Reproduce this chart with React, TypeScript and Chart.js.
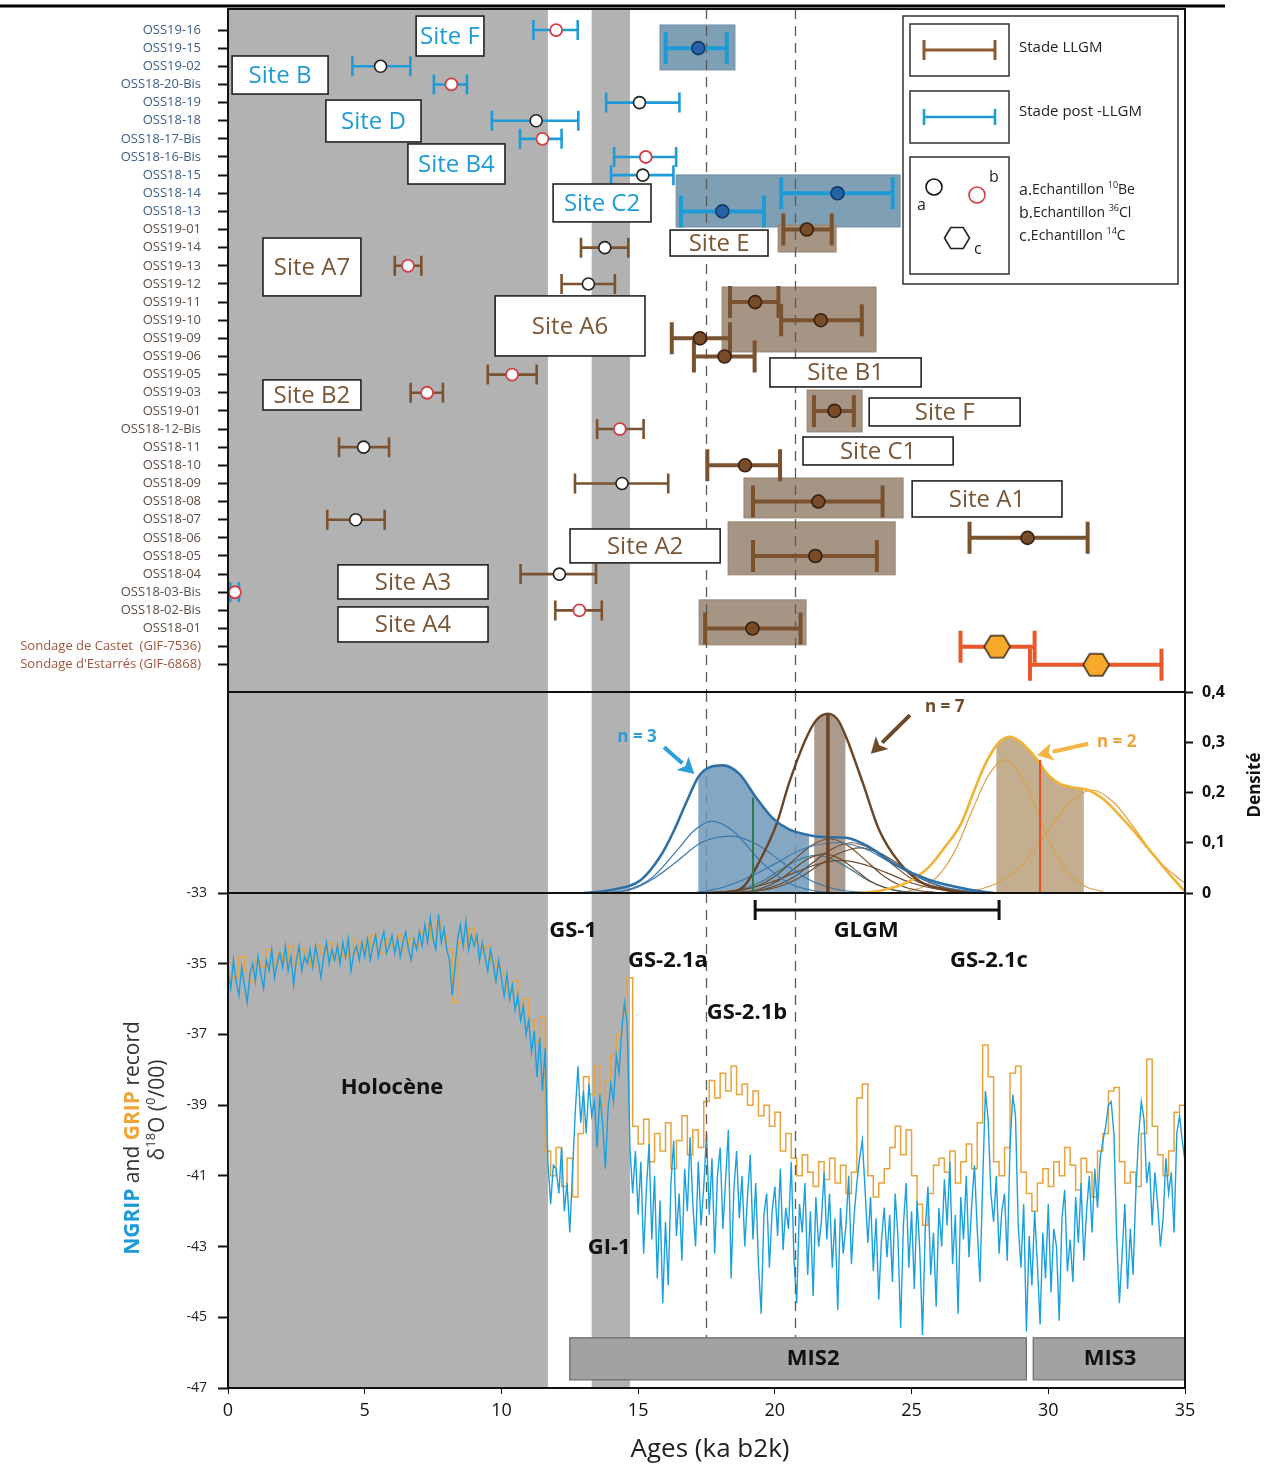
import React, { useEffect, useRef } from 'react';
import { Chart, registerables } from 'chart.js';
Chart.register(...registerables);

// ---------------- DATA ----------------
const SAMPLE_LABELS = ['OSS19-16', 'OSS19-15', 'OSS19-02', 'OSS18-20-Bis', 'OSS18-19', 'OSS18-18', 'OSS18-17-Bis', 'OSS18-16-Bis', 'OSS18-15', 'OSS18-14', 'OSS18-13', 'OSS19-01', 'OSS19-14', 'OSS19-13', 'OSS19-12', 'OSS19-11', 'OSS19-10', 'OSS19-09', 'OSS19-06', 'OSS19-05', 'OSS19-03', 'OSS19-01', 'OSS18-12-Bis', 'OSS18-11', 'OSS18-10', 'OSS18-09', 'OSS18-08', 'OSS18-07', 'OSS18-06', 'OSS18-05', 'OSS18-04', 'OSS18-03-Bis', 'OSS18-02-Bis', 'OSS18-01', 'Sondage de Castet  (GIF-7536)', "Sondage d'Estarrés (GIF-6868)"];
const SAMPLE_GROUP = ['post', 'post', 'post', 'post', 'post', 'post', 'post', 'post', 'post', 'post', 'post', 'llgm', 'llgm', 'llgm', 'llgm', 'llgm', 'llgm', 'llgm', 'llgm', 'llgm', 'llgm', 'llgm', 'llgm', 'llgm', 'llgm', 'llgm', 'llgm', 'llgm', 'llgm', 'llgm', 'llgm', 'llgm', 'llgm', 'llgm', 'c14', 'c14'];
const SAMPLE_STAGE = ['post', 'post', 'post', 'post', 'post', 'post', 'post', 'post', 'post', 'post', 'post', 'llgm', 'llgm', 'llgm', 'llgm', 'llgm', 'llgm', 'llgm', 'llgm', 'llgm', 'llgm', 'llgm', 'llgm', 'llgm', 'llgm', 'llgm', 'llgm', 'llgm', 'llgm', 'llgm', 'llgm', 'post', 'llgm', 'llgm', 'c14', 'c14'];
const SAMPLE_TYPE = ['Cl', 'sel', 'Be', 'Cl', 'Be', 'Be', 'Cl', 'Cl', 'Be', 'sel', 'sel', 'sel', 'Be', 'Cl', 'Be', 'sel', 'sel', 'sel', 'sel', 'Cl', 'Cl', 'sel', 'Cl', 'Be', 'sel', 'Be', 'sel', 'Be', 'sel', 'sel', 'Be', 'Cl', 'Cl', 'sel', 'C', 'C'];
const SAMPLE_AGE = [12.0, 17.2, 5.58, 8.17, 15.05, 11.27, 11.5, 15.28, 15.17, 22.29, 18.08, 21.17, 13.78, 6.58, 13.18, 19.28, 21.68, 17.26, 18.16, 10.39, 7.28, 22.18, 14.33, 4.96, 18.91, 14.41, 21.59, 4.67, 29.24, 21.48, 12.12, 0.25, 12.85, 19.18, 28.13, 31.75];
const SAMPLE_MIN = [11.17, 16.01, 4.55, 7.53, 13.83, 9.65, 10.68, 14.12, 14.01, 20.23, 16.57, 20.31, 12.91, 6.1, 12.2, 18.36, 20.23, 16.23, 17.04, 9.5, 6.68, 21.43, 13.5, 4.06, 17.53, 12.69, 19.2, 3.63, 27.12, 19.2, 10.7, 0.08, 11.97, 17.45, 26.79, 29.33];
const SAMPLE_MAX = [12.79, 18.24, 6.67, 8.74, 16.51, 12.81, 12.2, 16.39, 16.29, 24.31, 19.6, 22.08, 14.64, 7.07, 14.15, 20.13, 23.18, 18.36, 19.26, 11.29, 7.86, 22.89, 15.2, 5.89, 20.19, 16.1, 23.94, 5.73, 31.44, 23.73, 13.46, 0.4, 13.67, 20.94, 29.5, 34.14];

const BAND_START = [0, 13.3];
const BAND_END = [11.7, 14.7];
const DASHED_AGES = [17.48, 20.74];

// density panel (ka, density)
const DENS_POST_X = [13.0, 14.0, 15.1, 15.8, 16.3, 16.8, 17.2, 17.6, 18.1, 18.7, 19.3, 19.9, 20.5, 21.1, 21.6, 22.0, 22.6, 23.5, 24.4, 25.6, 27.1, 28.0];
const DENS_POST_Y = [0, 0.006, 0.026, 0.072, 0.123, 0.185, 0.231, 0.25, 0.254, 0.237, 0.191, 0.15, 0.127, 0.117, 0.112, 0.111, 0.11, 0.09, 0.057, 0.027, 0.007, 0];
const DENS_LLGM_X = [17.5, 18.4, 18.86, 19.31, 20.06, 20.51, 21.11, 21.5, 21.94, 22.3, 22.61, 23.21, 23.81, 24.56, 25.31, 26.36, 27.1];
const DENS_LLGM_Y = [0, 0.002, 0.013, 0.05, 0.137, 0.217, 0.304, 0.343, 0.357, 0.345, 0.31, 0.22, 0.126, 0.06, 0.023, 0.006, 0];
const DENS_C14_X = [23.0, 23.8, 24.8, 25.6, 26.2, 26.8, 27.3, 27.7, 28.2, 28.6, 29.0, 29.5, 30.0, 30.4, 30.9, 31.45, 32.05, 32.6, 33.1, 33.6, 34.0, 34.5, 35.0];
const DENS_C14_Y = [0, 0.004, 0.02, 0.05, 0.09, 0.137, 0.205, 0.257, 0.3, 0.311, 0.3, 0.272, 0.235, 0.218, 0.21, 0.205, 0.185, 0.155, 0.125, 0.092, 0.066, 0.033, 0.003];

const POST_A_X = [13.5, 14.5, 15.5, 16.5, 17.0, 17.7, 18.5, 19.5, 20.5, 21.5, 22.5];
const POST_A_Y = [0, 0.005, 0.03, 0.09, 0.122, 0.143, 0.122, 0.062, 0.02, 0.004, 0];
const POST_B_X = [13.8, 14.8, 15.6, 16.4, 17.3, 18.4, 19.4, 20.3, 21.2, 22.2, 23.4];
const POST_B_Y = [0, 0.008, 0.03, 0.062, 0.1, 0.113, 0.095, 0.06, 0.028, 0.008, 0];
const POST_C_X = [17.0, 18.0, 19.0, 20.0, 21.0, 22.2, 23.2, 24.2, 25.2, 26.2, 27.2, 28.0];
const POST_C_Y = [0, 0.01, 0.03, 0.058, 0.087, 0.1, 0.09, 0.062, 0.032, 0.012, 0.003, 0];

const LLGM_A_X = [18.1, 18.75, 19.4, 20.05, 20.7, 21.35, 22.0, 22.65, 23.3, 23.95, 24.6, 25.25, 25.9];
const LLGM_A_Y = [0.001, 0.005, 0.015, 0.035, 0.066, 0.095, 0.108, 0.095, 0.066, 0.035, 0.015, 0.005, 0.001];
const LLGM_B_X = [18.6, 19.3, 20.0, 20.7, 21.4, 22.1, 22.8, 23.5, 24.2, 24.9, 25.6, 26.3, 27.0];
const LLGM_B_Y = [0.001, 0.004, 0.014, 0.032, 0.061, 0.088, 0.1, 0.088, 0.061, 0.032, 0.014, 0.004, 0.001];
const LLGM_C_X = [18.6, 19.35, 20.1, 20.85, 21.6, 22.35, 23.1, 23.85, 24.6, 25.35, 26.1, 26.85, 27.6];
const LLGM_C_Y = [0.001, 0.004, 0.012, 0.029, 0.055, 0.079, 0.09, 0.079, 0.055, 0.029, 0.012, 0.004, 0.001];
const LLGM_D_X = [18.5, 19.05, 19.6, 20.15, 20.7, 21.25, 21.8, 22.35, 22.9, 23.45, 24.0, 24.55, 25.1];
const LLGM_D_Y = [0.001, 0.003, 0.011, 0.025, 0.048, 0.069, 0.078, 0.069, 0.048, 0.025, 0.011, 0.003, 0.001];
const LLGM_E_X = [17.3, 18.15, 19.0, 19.85, 20.7, 21.55, 22.4, 23.25, 24.1, 24.95, 25.8, 26.65, 27.5];
const LLGM_E_Y = [0.001, 0.003, 0.009, 0.021, 0.04, 0.057, 0.065, 0.057, 0.04, 0.021, 0.009, 0.003, 0.001];
const LLGM_F_X = [17.6, 18.25, 18.9, 19.55, 20.2, 20.85, 21.5, 22.15, 22.8, 23.45, 24.1, 24.75, 25.4];
const LLGM_F_Y = [0.001, 0.003, 0.01, 0.024, 0.046, 0.066, 0.075, 0.066, 0.046, 0.024, 0.01, 0.003, 0.001];

const C14_A_X = [24.8, 25.4, 26.0, 26.6, 27.2, 27.8, 28.4, 29.0, 29.6, 30.2, 30.8, 31.4, 32.0];
const C14_A_Y = [0.003, 0.012, 0.036, 0.085, 0.162, 0.233, 0.265, 0.233, 0.162, 0.085, 0.036, 0.012, 0.003];
const C14_B_X = [26.8, 27.6, 28.4, 29.2, 30.0, 30.8, 31.6, 32.4, 33.2, 34.0, 34.8, 35.0];
const C14_B_Y = [0.002, 0.009, 0.028, 0.066, 0.125, 0.18, 0.205, 0.18, 0.125, 0.066, 0.028, 0.02];

const MEAN_AGE = [19.2, 21.94, 29.7];
const MEAN_TOP = [0.19, 0.357, 0.265];
const SHADE_FROM = [17.2, 21.44, 28.1];
const SHADE_TO = [21.25, 22.58, 31.3];

const DENS_TICKS = [0, 0.1, 0.2, 0.3, 0.4];
const ISO_TICKS = [-47, -45, -43, -41, -39, -37, -35, -33];
const AGE_TICKS = [0, 5, 10, 15, 20, 25, 30, 35];

// ice-core δ18O records (regular sampling)
const NGRIP_START = 0;
const NGRIP_STEP = 0.1;
const NGRIP = [
  -35.2, -35.7, -34.9, -35.5, -35.9, -35.1, -35.6, -36.1, -35.3, -35.0,
  -35.5, -34.8, -35.3, -35.7, -34.9, -35.2, -34.6, -35.4, -35.0, -34.7,
  -35.1, -34.5, -35.2, -34.8, -35.6, -34.9, -34.5, -35.2, -34.8, -35.0,
  -34.6, -35.1, -34.5, -34.9, -35.4, -34.8, -34.4, -35.0, -34.6, -34.9,
  -34.5, -35.0, -34.4, -34.8, -34.3, -35.2, -34.7, -34.5, -34.9, -34.4,
  -34.8, -34.3, -34.9, -34.5, -34.2, -34.8, -34.4, -34.1, -34.7, -34.5,
  -34.2, -34.7, -34.3, -34.8, -34.4, -34.1, -34.6, -34.9, -34.3, -34.6,
  -34.1, -34.5, -33.9, -34.4, -33.7, -34.3, -34.6, -33.6, -34.4, -34.0,
  -34.6, -34.9, -35.9, -35.1, -34.3, -33.9, -34.5, -33.8, -34.6, -34.2,
  -34.5, -34.2, -34.9, -34.4, -34.8, -35.2, -34.6, -35.0, -35.5, -34.9,
  -35.4, -35.9, -35.3, -36.0, -35.6, -36.3, -35.9, -36.6, -36.2, -37.0,
  -36.6, -37.5, -36.9, -38.2, -37.1, -38.6, -37.4, -40.6, -41.8, -40.7,
  -40.8, -41.5, -40.2, -42.0, -41.2, -42.6, -40.9, -39.2, -37.9, -39.5,
  -38.6, -39.8, -38.4, -39.3, -38.9, -40.2, -38.7, -39.5, -40.8, -39.1,
  -38.4, -38.9, -37.6, -38.1, -36.9, -36.1, -36.7, -40.2, -41.5, -40.3,
  -42.1, -40.6, -43.2, -41.4, -40.1, -42.8, -41.0, -43.9, -41.7, -44.6,
  -42.3, -44.1, -41.2, -40.0, -42.7, -41.5, -43.4, -40.8, -42.0, -39.9,
  -41.8, -43.0, -40.6, -42.4, -41.3, -39.8, -42.1, -40.5, -43.2, -41.0,
  -40.2, -42.5, -41.1, -39.7, -43.9, -41.4, -40.3, -42.2, -41.0, -43.0,
  -41.6, -40.4, -42.8, -41.2, -43.5, -44.9, -42.1, -41.5, -43.6, -42.0,
  -41.3, -42.7, -40.8, -43.1, -41.9, -42.5, -40.6, -43.4, -44.6, -41.8,
  -42.6, -41.2, -43.8, -42.0, -44.4, -41.6, -43.0, -42.3, -40.9, -42.8,
  -41.5, -43.6, -42.2, -44.8, -41.9, -43.2, -42.4, -41.0, -43.5, -42.1,
  -41.2, -40.5, -40.0, -41.4, -42.9, -41.6, -43.7, -42.2, -44.5, -42.8,
  -41.9, -43.3, -42.1, -44.0, -41.5, -42.7, -45.3, -42.4, -41.2, -43.6,
  -42.0, -44.2, -41.7, -43.1, -45.5, -42.5, -41.3, -43.8, -42.6, -44.7,
  -41.9, -43.0, -41.1, -42.4, -40.6, -43.5, -42.1, -44.9, -41.6, -42.8,
  -41.0, -43.3, -41.8, -40.7, -42.5, -44.0, -41.2, -38.6, -39.4, -41.5,
  -42.3, -41.0, -43.2, -42.0, -41.5, -43.4, -40.2, -38.7, -39.3, -42.4,
  -43.6, -41.8, -45.4, -42.7, -44.1, -42.0, -43.5, -45.2, -42.6, -43.9,
  -41.8, -44.3, -42.5, -43.0, -45.1, -42.2, -41.4, -43.7, -42.8, -44.0,
  -41.6, -42.9, -41.2, -43.4, -42.0, -41.0, -42.6, -40.8, -41.9, -40.5,
  -40.0, -39.6, -39.0, -38.9, -39.8, -42.7, -44.6, -43.2, -41.8, -44.2,
  -42.5, -43.8, -41.5, -39.9, -38.9, -39.4, -41.2, -40.6, -42.4, -40.9,
  -41.8, -43.0, -42.2, -40.5, -41.5, -40.9, -42.6, -39.8, -39.3, -40.0,
  -40.6,
];
const GRIP_START = 0;
const GRIP_STEP = 0.2;
const GRIP = [
  -35.0, -35.4, -34.8, -35.2, -35.5, -34.9, -35.1, -34.6, -35.0, -34.7,
  -34.9, -34.5, -35.0, -34.6, -34.8, -35.1, -34.5, -34.7, -34.4, -34.9,
  -34.5, -34.8, -34.3, -34.7, -34.4, -34.6, -34.2, -34.5, -34.7, -34.3,
  -34.5, -34.2, -34.6, -34.3, -34.5, -34.1, -33.9, -34.3, -33.8, -34.2,
  -34.6, -36.1, -34.4, -34.5, -34.0, -34.4, -34.7, -34.5, -34.9, -35.1,
  -35.3, -35.8, -35.5, -36.2, -36.0, -36.6, -37.2, -36.5, -40.3, -41.0,
  -40.2, -41.3, -40.5, -41.6, -39.8, -38.2, -38.7, -37.9, -39.0, -38.3,
  -37.6, -37.0, -36.4, -35.4, -39.6, -40.1, -39.4, -40.6, -39.8, -40.3,
  -39.5, -40.8, -40.0, -39.3, -40.4, -39.7, -40.2, -38.9, -38.3, -38.8,
  -38.1, -38.6, -37.9, -38.7, -38.4, -39.0, -38.6, -39.3, -39.0, -39.6,
  -39.2, -40.3, -39.8, -40.5, -41.0, -40.4, -40.9, -41.3, -40.6, -41.1,
  -40.5, -41.2, -40.7, -41.5, -40.9, -38.8, -38.4, -41.0, -41.6, -41.2,
  -40.8, -40.2, -39.6, -40.4, -39.7, -41.0, -41.8, -42.4, -41.5, -40.7,
  -40.5, -40.9, -40.3, -41.2, -40.6, -40.1, -40.8, -39.5, -37.3, -38.2,
  -40.6, -41.0, -40.2, -38.1, -37.9, -40.9, -41.5, -42.0, -41.2, -40.8,
  -41.3, -40.6, -41.0, -40.2, -40.7, -41.4, -40.5, -40.9, -41.6, -40.3,
  -39.8, -38.6, -38.5, -40.6, -41.2, -40.9, -41.3, -39.8, -37.7, -39.6,
  -40.4, -41.0, -40.3, -39.2, -39.0, -39.6,
];

// ---------------- LAYOUT / STYLE ----------------
const W = 1275;
const H = 1468;
const PLOT_LEFT = 228;
const PLOT_RIGHT = 1185;
const TOP_Y0 = 9;
const TOP_Y1 = 692;
const MID_Y1 = 893;
const BOT_Y1 = 1388;
const FONT = '"Open Sans", "Noto Sans", "DejaVu Sans", sans-serif';
const GRAY = '#b2b2b2';
const BLUE = '#1e9bd7';
const BROWN = '#7b5230';
const ORANGE_BAR = '#e9582b';
const LABEL_COLORS: Record<string, string> = { post: '#3d5d85', llgm: '#5a4d44', c14: '#a0543d' };
const SITE_COLORS: Record<string, string> = { post: '#1e9bd7', llgm: '#7a5535' };

const SITE_BOXES = [
  { t: 'Site F', g: 'post', x0: 6.88, x1: 9.36, y0: -0.77, y1: 1.43 },
  { t: 'Site B', g: 'post', x0: 0.15, x1: 3.66, y0: 1.43, y1: 3.53 },
  { t: 'Site D', g: 'post', x0: 3.58, x1: 7.06, y0: 3.86, y1: 6.17 },
  { t: 'Site B4', g: 'post', x0: 6.58, x1: 10.13, y0: 6.28, y1: 8.49 },
  { t: 'Site C2', g: 'post', x0: 11.89, x1: 15.47, y0: 8.49, y1: 10.58 },
  { t: 'Site E', g: 'llgm', x0: 16.17, x1: 19.75, y0: 11.03, y1: 12.46 },
  { t: 'Site A7', g: 'llgm', x0: 1.28, x1: 4.86, y0: 11.47, y1: 14.66 },
  { t: 'Site A6', g: 'llgm', x0: 9.77, x1: 15.25, y0: 14.66, y1: 17.97 },
  { t: 'Site B1', g: 'llgm', x0: 19.82, x1: 25.35, y0: 18.08, y1: 19.68 },
  { t: 'Site B2', g: 'llgm', x0: 1.28, x1: 4.86, y0: 19.29, y1: 20.95 },
  { t: 'Site F', g: 'llgm', x0: 23.45, x1: 28.97, y0: 20.29, y1: 21.83 },
  { t: 'Site C1', g: 'llgm', x0: 21.03, x1: 26.52, y0: 22.44, y1: 23.98 },
  { t: 'Site A1', g: 'llgm', x0: 25.02, x1: 30.5, y0: 24.86, y1: 26.85 },
  { t: 'Site A2', g: 'llgm', x0: 12.51, x1: 18.0, y0: 27.51, y1: 29.38 },
  { t: 'Site A3', g: 'llgm', x0: 4.02, x1: 9.51, y0: 29.49, y1: 31.37 },
  { t: 'Site A4', g: 'llgm', x0: 4.02, x1: 9.51, y0: 31.81, y1: 33.74 },
];
const HILITE_BOXES = [
  { g: 'post', x0: 15.8, x1: 18.54, y0: -0.28, y1: 2.2 },
  { g: 'post', x0: 16.39, x1: 24.58, y0: 7.99, y1: 10.86 },
  { g: 'llgm', x0: 20.12, x1: 22.24, y0: 10.75, y1: 12.24 },
  { g: 'llgm', x0: 18.07, x1: 23.7, y0: 14.17, y1: 17.75 },
  { g: 'llgm', x0: 21.18, x1: 23.19, y0: 19.85, y1: 22.16 },
  { g: 'llgm', x0: 18.87, x1: 24.69, y0: 24.7, y1: 26.9 },
  { g: 'llgm', x0: 18.29, x1: 24.4, y0: 27.12, y1: 30.04 },
  { g: 'llgm', x0: 17.23, x1: 21.14, y0: 31.42, y1: 33.9 },
];
const HILITE_COLORS: Record<string, string> = { post: '#7f9fb5', llgm: '#a69485' };

Chart.defaults.font.family = FONT;

// ---------------- HELPERS ----------------
function hexPath(g: CanvasRenderingContext2D, cx: number, cy: number, w: number, h: number) {
  g.beginPath();
  g.moveTo(cx - w / 2, cy);
  g.lineTo(cx - w / 4, cy - h / 2);
  g.lineTo(cx + w / 4, cy - h / 2);
  g.lineTo(cx + w / 2, cy);
  g.lineTo(cx + w / 4, cy + h / 2);
  g.lineTo(cx - w / 4, cy + h / 2);
  g.closePath();
}
function hexCanvas(w: number, h: number, fill: string, stroke: string) {
  const c = document.createElement('canvas');
  c.width = w + 4;
  c.height = h + 4;
  const g = c.getContext('2d')!;
  hexPath(g, c.width / 2, c.height / 2, w, h);
  g.fillStyle = fill;
  g.fill();
  g.lineWidth = 1.5;
  g.strokeStyle = stroke;
  g.stroke();
  return c;
}
function drawBands(chart: any) {
  const { ctx, chartArea: a, scales } = chart;
  const x = scales.x;
  ctx.save();
  ctx.fillStyle = GRAY;
  BAND_START.forEach((s, k) => {
    const x0 = x.getPixelForValue(s), x1 = x.getPixelForValue(BAND_END[k]);
    ctx.fillRect(x0, a.top, x1 - x0, a.bottom - a.top);
  });
  ctx.restore();
}
function drawDashed(chart: any, yTop?: number, yBot?: number) {
  const { ctx, chartArea: a, scales } = chart;
  ctx.save();
  ctx.strokeStyle = '#5a5a5a';
  ctx.lineWidth = 1.3;
  ctx.setLineDash([10, 7]);
  DASHED_AGES.forEach((v) => {
    const px = Math.round(scales.x.getPixelForValue(v)) + 0.5;
    ctx.beginPath();
    ctx.moveTo(px, yTop ?? a.top);
    ctx.lineTo(px, yBot ?? a.bottom);
    ctx.stroke();
  });
  ctx.restore();
}
function drawFrame(chart: any) {
  const { ctx, chartArea: a } = chart;
  ctx.save();
  ctx.strokeStyle = '#111';
  ctx.lineWidth = 2;
  ctx.strokeRect(a.left, a.top, a.right - a.left, a.bottom - a.top);
  ctx.restore();
}
function errBar(ctx: CanvasRenderingContext2D, x0: number, x1: number, y: number, color: string, lw: number, cap: number) {
  ctx.strokeStyle = color;
  ctx.lineWidth = lw;
  ctx.beginPath();
  ctx.moveTo(x0, y);
  ctx.lineTo(x1, y);
  ctx.moveTo(x0, y - cap);
  ctx.lineTo(x0, y + cap);
  ctx.moveTo(x1, y - cap);
  ctx.lineTo(x1, y + cap);
  ctx.stroke();
}
function arrow(ctx: CanvasRenderingContext2D, x0: number, y0: number, x1: number, y1: number, color: string) {
  const ang = Math.atan2(y1 - y0, x1 - x0);
  const hl = 16, hw = 9;
  const bx = x1 - hl * Math.cos(ang), by = y1 - hl * Math.sin(ang);
  ctx.strokeStyle = color;
  ctx.fillStyle = color;
  ctx.lineWidth = 4;
  ctx.beginPath();
  ctx.moveTo(x0, y0);
  ctx.lineTo(bx, by);
  ctx.stroke();
  ctx.beginPath();
  ctx.moveTo(x1, y1);
  ctx.lineTo(bx + hw * Math.sin(ang), by - hw * Math.cos(ang));
  ctx.lineTo(bx + 4 * Math.cos(ang), by + 4 * Math.sin(ang));
  ctx.lineTo(bx - hw * Math.sin(ang), by + hw * Math.cos(ang));
  ctx.closePath();
  ctx.fill();
}
const pairs = (xs: number[], ys: number[]) => xs.map((x, i) => ({ x, y: ys[i] }));
const series = (start: number, step: number, vals: number[]) => vals.map((v, i) => ({ x: +(start + i * step).toFixed(3), y: v }));
const fitY = (width: number) => (s: any) => { s.width = width; s.paddingTop = 0; s.paddingBottom = 0; };

// ---------------- TOP PANEL ----------------
function makeTop(canvas: HTMLCanvasElement) {
  const ids = (pred: (i: number) => boolean) => SAMPLE_AGE.map((_, i) => i).filter(pred);
  const pts = (list: number[]) => list.map((i) => ({ x: SAMPLE_AGE[i], y: i }));
  const plugin = {
    id: 'topDeco',
    beforeDatasetsDraw(chart: any) {
      const { ctx, scales } = chart;
      const x = scales.x, y = scales.y;
      drawBands(chart);
      ctx.save();
      HILITE_BOXES.forEach((b) => {
        const x0 = x.getPixelForValue(b.x0), x1 = x.getPixelForValue(b.x1);
        const y0 = y.getPixelForValue(b.y0), y1 = y.getPixelForValue(b.y1);
        ctx.fillStyle = HILITE_COLORS[b.g];
        ctx.fillRect(x0, y0, x1 - x0, y1 - y0);
        ctx.strokeStyle = b.g === 'post' ? '#6f8fa6' : '#958373';
        ctx.lineWidth = 1;
        ctx.strokeRect(x0, y0, x1 - x0, y1 - y0);
      });
      ctx.restore();
      drawDashed(chart);
      ctx.save();
      SAMPLE_AGE.forEach((_, i) => {
        const st = SAMPLE_STAGE[i];
        const col = st === 'post' ? BLUE : st === 'c14' ? ORANGE_BAR : BROWN;
        const strong = SAMPLE_TYPE[i] === 'sel' || SAMPLE_TYPE[i] === 'C';
        errBar(ctx, x.getPixelForValue(SAMPLE_MIN[i]), x.getPixelForValue(SAMPLE_MAX[i]), y.getPixelForValue(i), col, strong ? 4 : 2.6, strong ? 16 : 10);
      });
      ctx.restore();
    },
    afterDatasetsDraw(chart: any) {
      const { ctx, scales } = chart;
      const x = scales.x, y = scales.y;
      ctx.save();
      SITE_BOXES.forEach((b) => {
        const x0 = x.getPixelForValue(b.x0), x1 = x.getPixelForValue(b.x1);
        const y0 = y.getPixelForValue(b.y0), y1 = y.getPixelForValue(b.y1);
        ctx.fillStyle = '#fff';
        ctx.fillRect(x0, y0, x1 - x0, y1 - y0);
        ctx.strokeStyle = '#222';
        ctx.lineWidth = 1.6;
        ctx.strokeRect(x0, y0, x1 - x0, y1 - y0);
        ctx.fillStyle = SITE_COLORS[b.g];
        ctx.font = `24px ${FONT}`;
        ctx.textAlign = 'center';
        ctx.textBaseline = 'middle';
        ctx.fillText(b.t, (x0 + x1) / 2, (y0 + y1) / 2 + 1);
      });
      // legend
      ctx.fillStyle = '#fff';
      ctx.fillRect(903, 16, 275, 268);
      ctx.strokeStyle = '#333';
      ctx.lineWidth = 1.5;
      ctx.strokeRect(903, 16, 275, 268);
      ctx.strokeRect(910, 24, 99, 52);
      ctx.strokeRect(910, 91, 99, 52);
      ctx.strokeRect(910, 157, 99, 117);
      errBar(ctx, 924, 995, 50, '#8b5a33', 3, 10);
      errBar(ctx, 924, 995, 117, BLUE, 2.6, 8);
      ctx.fillStyle = '#222';
      ctx.font = `15px ${FONT}`;
      ctx.textAlign = 'left';
      ctx.textBaseline = 'middle';
      ctx.fillText('Stade LLGM', 1019, 48);
      ctx.fillText('Stade post -LLGM', 1019, 112);
      ctx.lineWidth = 1.6;
      ctx.strokeStyle = '#111';
      ctx.beginPath();
      ctx.arc(934, 187, 8, 0, Math.PI * 2);
      ctx.stroke();
      ctx.strokeStyle = '#d23e48';
      ctx.beginPath();
      ctx.arc(977, 195, 8, 0, Math.PI * 2);
      ctx.stroke();
      ctx.strokeStyle = '#222';
      hexPath(ctx, 957, 238, 25, 21);
      ctx.stroke();
      ctx.fillStyle = '#222';
      ctx.font = `16px ${FONT}`;
      ctx.fillText('a', 917, 205);
      ctx.fillText('b', 989, 177);
      ctx.fillText('c', 974, 249);
      const lines: [string, string, string][] = [['a.', '10', 'Be'], ['b.', '36', 'Cl'], ['c.', '14', 'C']];
      lines.forEach((l, k) => {
        const yy = 190 + k * 23;
        let xx = 1019;
        ctx.font = `16px ${FONT}`;
        ctx.fillText(l[0], xx, yy);
        xx += ctx.measureText(l[0]).width;
        ctx.font = `14px ${FONT}`;
        ctx.fillText('Echantillon ', xx, yy);
        xx += ctx.measureText('Echantillon ').width;
        ctx.font = `9px ${FONT}`;
        ctx.fillText(l[1], xx, yy - 5);
        xx += ctx.measureText(l[1]).width;
        ctx.font = `14px ${FONT}`;
        ctx.fillText(l[2], xx, yy);
      });
      ctx.restore();
    },
    afterDraw(chart: any) {
      drawFrame(chart);
      const ctx = chart.ctx;
      ctx.save();
      ctx.strokeStyle = '#000';
      ctx.lineWidth = 3;
      ctx.beginPath();
      ctx.moveTo(0, 6);
      ctx.lineTo(1225, 6);
      ctx.stroke();
      ctx.restore();
    },
  };
  return new Chart(canvas, {
    type: 'scatter',
    data: {
      datasets: [
        { label: '10Be', data: pts(ids((i) => SAMPLE_TYPE[i] === 'Be')), pointRadius: 6, pointBackgroundColor: '#fff', pointBorderColor: '#222', pointBorderWidth: 1.6 },
        { label: '36Cl', data: pts(ids((i) => SAMPLE_TYPE[i] === 'Cl')), pointRadius: 6, pointBackgroundColor: '#fff', pointBorderColor: '#d23e48', pointBorderWidth: 1.8 },
        { label: 'post', data: pts(ids((i) => SAMPLE_TYPE[i] === 'sel' && SAMPLE_STAGE[i] === 'post')), pointRadius: 6.5, pointBackgroundColor: '#2463a8', pointBorderColor: '#15375e', pointBorderWidth: 1.6 },
        { label: 'llgm', data: pts(ids((i) => SAMPLE_TYPE[i] === 'sel' && SAMPLE_STAGE[i] === 'llgm')), pointRadius: 6.5, pointBackgroundColor: '#7a4b27', pointBorderColor: '#3a2010', pointBorderWidth: 1.6 },
        { label: '14C', data: pts(ids((i) => SAMPLE_TYPE[i] === 'C')), pointRadius: 1, pointBorderWidth: 0, pointStyle: hexCanvas(26, 22, '#f7a92b', '#3a2a1a') },
      ],
    } as any,
    options: {
      responsive: false,
      animation: false,
      devicePixelRatio: 1,
      events: [],
      layout: { padding: { left: 0, right: W - PLOT_RIGHT, top: TOP_Y0, bottom: H - TOP_Y1 } },
      plugins: { legend: { display: false }, tooltip: { enabled: false } },
      scales: {
        x: { type: 'linear', min: 0, max: 35, display: false },
        y: {
          type: 'linear',
          reverse: true,
          min: -1.16,
          max: 36.5,
          afterFit: fitY(PLOT_LEFT),
          afterBuildTicks: (s: any) => { s.ticks = SAMPLE_LABELS.map((_, i) => ({ value: i })); },
          ticks: {
            autoSkip: false,
            padding: 17,
            font: { size: 13 },
            color: (c: any) => LABEL_COLORS[SAMPLE_GROUP[c.tick?.value] || 'llgm'],
            callback: (v: any) => SAMPLE_LABELS[v] ?? '',
          },
          grid: { drawOnChartArea: false, tickLength: 10, tickColor: '#111', tickWidth: 2 },
          border: { display: false },
        },
      },
    } as any,
    plugins: [plugin],
  });
}

// ---------------- MIDDLE (DENSITY) PANEL ----------------
function makeMid(canvas: HTMLCanvasElement) {
  const curve = (xs: number[], ys: number[], color: string, width: number, order: number) => ({
    data: pairs(xs, ys), borderColor: color, borderWidth: width, pointRadius: 0, fill: false, cubicInterpolationMode: 'monotone', order,
  });
  const datasets = [
    curve(DENS_POST_X, DENS_POST_Y, '#2f71a6', 2.6, 1),
    curve(DENS_LLGM_X, DENS_LLGM_Y, '#6b4425', 2.4, 1),
    curve(DENS_C14_X, DENS_C14_Y, '#f2b233', 2.6, 1),
    curve(POST_A_X, POST_A_Y, '#3a78ad', 1.2, 3),
    curve(POST_B_X, POST_B_Y, '#3a78ad', 1.2, 3),
    curve(POST_C_X, POST_C_Y, '#3a78ad', 1.2, 3),
    curve(LLGM_A_X, LLGM_A_Y, '#6e4b2f', 1.2, 3),
    curve(LLGM_B_X, LLGM_B_Y, '#6e4b2f', 1.2, 3),
    curve(LLGM_C_X, LLGM_C_Y, '#6e4b2f', 1.2, 3),
    curve(LLGM_D_X, LLGM_D_Y, '#6e4b2f', 1.2, 3),
    curve(LLGM_E_X, LLGM_E_Y, '#6e4b2f', 1.2, 3),
    curve(LLGM_F_X, LLGM_F_Y, '#3e7f94', 1.2, 3),
    curve(C14_A_X, C14_A_Y, '#d9a04a', 1.2, 3),
    curve(C14_B_X, C14_B_Y, '#d9a04a', 1.2, 3),
  ];
  const SHADE_COLORS = ['rgba(110,152,184,0.85)', 'rgba(150,130,115,0.8)', 'rgba(180,155,115,0.8)'];
  const plugin = {
    id: 'midDeco',
    beforeDatasetsDraw(chart: any) {
      const { ctx, chartArea: a, scales } = chart;
      drawBands(chart);
      drawDashed(chart);
      const y0 = scales.y.getPixelForValue(0);
      [0, 1, 2].forEach((k) => {
        const meta = chart.getDatasetMeta(k);
        const line = meta.dataset;
        if (!line) return;
        line.updateControlPoints(a, 'x');
        const xa = scales.x.getPixelForValue(SHADE_FROM[k]), xb = scales.x.getPixelForValue(SHADE_TO[k]);
        ctx.save();
        ctx.beginPath();
        ctx.rect(xa, a.top, xb - xa, a.bottom - a.top);
        ctx.clip();
        ctx.beginPath();
        line.path(ctx);
        const pts = meta.data;
        ctx.lineTo(pts[pts.length - 1].x, y0);
        ctx.lineTo(pts[0].x, y0);
        ctx.closePath();
        ctx.fillStyle = SHADE_COLORS[k];
        ctx.fill();
        ctx.restore();
      });
    },
    afterDatasetsDraw(chart: any) {
      const { ctx, scales } = chart;
      const x = scales.x, y = scales.y;
      ctx.save();
      const mc = ['#2c7a4e', '#6b4425', '#e8502c'];
      const mw = [2, 3.5, 2.2];
      MEAN_AGE.forEach((m, k) => {
        ctx.strokeStyle = mc[k];
        ctx.lineWidth = mw[k];
        ctx.beginPath();
        ctx.moveTo(x.getPixelForValue(m), y.getPixelForValue(0));
        ctx.lineTo(x.getPixelForValue(m), y.getPixelForValue(MEAN_TOP[k]));
        ctx.stroke();
      });
      arrow(ctx, x.getPixelForValue(15.95), y.getPixelForValue(0.29), x.getPixelForValue(17.06), y.getPixelForValue(0.237), '#2a9fd8');
      arrow(ctx, x.getPixelForValue(24.94), y.getPixelForValue(0.354), x.getPixelForValue(23.51), y.getPixelForValue(0.277), '#6e4a2b');
      arrow(ctx, x.getPixelForValue(31.46), y.getPixelForValue(0.297), x.getPixelForValue(29.59), y.getPixelForValue(0.274), '#f2b445');
      ctx.font = `bold 17px ${FONT}`;
      ctx.textAlign = 'center';
      ctx.textBaseline = 'middle';
      ctx.fillStyle = '#2a9fd8';
      ctx.fillText('n = 3', x.getPixelForValue(14.96), y.getPixelForValue(0.31));
      ctx.fillStyle = '#6e4a2b';
      ctx.fillText('n = 7', x.getPixelForValue(26.21), y.getPixelForValue(0.37));
      ctx.fillStyle = '#eda53a';
      ctx.fillText('n = 2', x.getPixelForValue(32.5), y.getPixelForValue(0.3));
      ctx.translate(1255, 785);
      ctx.rotate(-Math.PI / 2);
      ctx.fillStyle = '#111';
      ctx.font = `bold 17px ${FONT}`;
      ctx.fillText('Densité', 0, 0);
      ctx.restore();
    },
    afterDraw(chart: any) { drawFrame(chart); },
  };
  return new Chart(canvas, {
    type: 'line',
    data: { datasets } as any,
    options: {
      responsive: false,
      animation: false,
      devicePixelRatio: 1,
      events: [],
      layout: { padding: { left: PLOT_LEFT, right: 0, top: TOP_Y1, bottom: H - MID_Y1 } },
      plugins: { legend: { display: false }, tooltip: { enabled: false } },
      scales: {
        x: { type: 'linear', min: 0, max: 35, display: false },
        y: {
          type: 'linear',
          position: 'right',
          min: 0,
          max: 0.4,
          afterFit: fitY(W - PLOT_RIGHT),
          afterBuildTicks: (s: any) => { s.ticks = DENS_TICKS.map((v) => ({ value: v })); },
          ticks: {
            padding: 9,
            color: '#111',
            font: { size: 16, weight: 'bold' },
            callback: (v: any) => (v === 0 ? '0' : Number(v).toFixed(1).replace('.', ',')),
          },
          grid: { drawOnChartArea: false, tickLength: 8, tickColor: '#111', tickWidth: 2 },
          border: { display: false },
        },
      },
    } as any,
    plugins: [plugin],
  });
}

// ---------------- BOTTOM (ICE CORE) PANEL ----------------
function makeBot(canvas: HTMLCanvasElement) {
  const plugin = {
    id: 'botDeco',
    beforeDatasetsDraw(chart: any) { drawBands(chart); },
    afterDatasetsDraw(chart: any) {
      const { ctx, scales } = chart;
      const x = scales.x, y = scales.y;
      drawDashed(chart, undefined, y.getPixelForValue(-45.58));
      ctx.save();
      const mis = [{ t: 'MIS2', a: 12.5, b: 29.2, c: 21.4 }, { t: 'MIS3', a: 29.45, b: 35, c: 32.26 }];
      mis.forEach((m) => {
        const x0 = x.getPixelForValue(m.a), x1 = x.getPixelForValue(m.b);
        const y0 = y.getPixelForValue(-45.58), y1 = y.getPixelForValue(-46.77);
        ctx.fillStyle = '#a2a2a2';
        ctx.fillRect(x0, y0, x1 - x0, y1 - y0);
        ctx.strokeStyle = '#6a6a6a';
        ctx.lineWidth = 1.2;
        ctx.strokeRect(x0, y0, x1 - x0, y1 - y0);
        ctx.fillStyle = '#111';
        ctx.font = `bold 22px ${FONT}`;
        ctx.textAlign = 'center';
        ctx.textBaseline = 'middle';
        ctx.fillText(m.t, x.getPixelForValue(m.c), (y0 + y1) / 2);
      });
      const gy = y.getPixelForValue(-33.48);
      const g0 = x.getPixelForValue(19.28), g1 = x.getPixelForValue(28.2);
      ctx.strokeStyle = '#111';
      ctx.lineWidth = 3;
      ctx.beginPath();
      ctx.moveTo(g0, gy); ctx.lineTo(g1, gy);
      ctx.moveTo(g0, gy - 10); ctx.lineTo(g0, gy + 10);
      ctx.moveTo(g1, gy - 10); ctx.lineTo(g1, gy + 10);
      ctx.stroke();
      const notes: [string, number, number][] = [
        ['GS-1', 12.62, -34.07], ['GS-2.1a', 16.09, -34.92], ['GS-2.1b', 18.98, -36.39], ['GLGM', 23.34, -34.07],
        ['GS-2.1c', 27.83, -34.92], ['Holocène', 6.0, -38.5], ['GI-1', 13.94, -43.04],
      ];
      ctx.fillStyle = '#111';
      ctx.font = `bold 22px ${FONT}`;
      ctx.textAlign = 'center';
      ctx.textBaseline = 'middle';
      notes.forEach((n) => ctx.fillText(n[0], x.getPixelForValue(n[1]), y.getPixelForValue(n[2])));
      ctx.restore();
    },
    afterDraw(chart: any) {
      drawFrame(chart);
      const ctx = chart.ctx;
      ctx.save();
      ctx.textBaseline = 'middle';
      ctx.textAlign = 'center';
      ctx.fillStyle = '#222';
      ctx.font = `26px ${FONT}`;
      ctx.fillText('Ages (ka b2k)', 710, 1450);
      ctx.save();
      ctx.translate(133, 1138);
      ctx.rotate(-Math.PI / 2);
      ctx.textAlign = 'left';
      const parts: [string, string, string][] = [['NGRIP', 'bold', '#1a9ad6'], [' and ', 'normal', '#333'], ['GRIP', 'bold', '#eea536'], [' record', 'normal', '#333']];
      let tot = 0;
      parts.forEach((p) => { ctx.font = `${p[1]} 21px ${FONT}`; tot += ctx.measureText(p[0]).width; });
      let px = -tot / 2;
      parts.forEach((p) => { ctx.font = `${p[1]} 21px ${FONT}`; ctx.fillStyle = p[2]; ctx.fillText(p[0], px, 0); px += ctx.measureText(p[0]).width; });
      ctx.restore();
      ctx.save();
      ctx.translate(158, 1110);
      ctx.rotate(-Math.PI / 2);
      ctx.textAlign = 'left';
      ctx.fillStyle = '#333';
      const segs: [string, number, number][] = [['δ', 21, 0], ['18', 13, -7], ['O (', 21, 0], ['0', 13, -7], ['/00)', 21, 0]];
      let t2 = 0;
      segs.forEach((s) => { ctx.font = `${s[1]}px ${FONT}`; t2 += ctx.measureText(s[0]).width; });
      let qx = -t2 / 2;
      segs.forEach((s) => { ctx.font = `${s[1]}px ${FONT}`; ctx.fillText(s[0], qx, s[2]); qx += ctx.measureText(s[0]).width; });
      ctx.restore();
      ctx.restore();
    },
  };
  return new Chart(canvas, {
    type: 'line',
    data: {
      datasets: [
        { label: 'NGRIP', data: series(NGRIP_START, NGRIP_STEP, NGRIP), borderColor: '#1ba0dd', borderWidth: 1.4, pointRadius: 0, fill: false, order: 1 },
        { label: 'GRIP', data: series(GRIP_START, GRIP_STEP, GRIP), borderColor: '#e9a33b', borderWidth: 1.5, pointRadius: 0, fill: false, stepped: true, order: 2 },
      ],
    } as any,
    options: {
      responsive: false,
      animation: false,
      devicePixelRatio: 1,
      events: [],
      layout: { padding: { left: 0, right: W - PLOT_RIGHT, top: MID_Y1, bottom: 0 } },
      plugins: { legend: { display: false }, tooltip: { enabled: false } },
      scales: {
        x: {
          type: 'linear', min: 0, max: 35,
          afterFit: (s: any) => { s.height = H - BOT_Y1; },
          afterBuildTicks: (s: any) => { s.ticks = AGE_TICKS.map((v) => ({ value: v })); },
          ticks: { padding: 6, color: '#111', font: { size: 18 }, maxRotation: 0 },
          grid: { drawOnChartArea: false, tickLength: 6, tickColor: '#111' },
          border: { display: false },
        },
        y: {
          type: 'linear', min: -47, max: -33,
          afterFit: fitY(PLOT_LEFT),
          afterBuildTicks: (s: any) => { s.ticks = ISO_TICKS.map((v) => ({ value: v })); },
          ticks: { padding: 11, color: '#222', font: { size: 14 } },
          grid: { drawOnChartArea: false, tickLength: 10, tickColor: '#111', tickWidth: 2 },
          border: { display: false },
        },
      },
    } as any,
    plugins: [plugin],
  });
}

export default function App() {
  const topRef = useRef<HTMLCanvasElement>(null);
  const midRef = useRef<HTMLCanvasElement>(null);
  const botRef = useRef<HTMLCanvasElement>(null);
  useEffect(() => {
    document.body.style.margin = '0';
    const charts = [makeBot(botRef.current!), makeMid(midRef.current!), makeTop(topRef.current!)];
    return () => charts.forEach((c) => c.destroy());
  }, []);
  const cs: React.CSSProperties = { position: 'absolute', left: 0, top: 0, width: W, height: H };
  return (
    <div style={{ position: 'relative', width: W, height: H, overflow: 'hidden', background: '#fff' }}>
      <canvas ref={botRef} width={W} height={H} style={cs} />
      <canvas ref={midRef} width={W} height={H} style={cs} />
      <canvas ref={topRef} width={W} height={H} style={cs} />
    </div>
  );
}
